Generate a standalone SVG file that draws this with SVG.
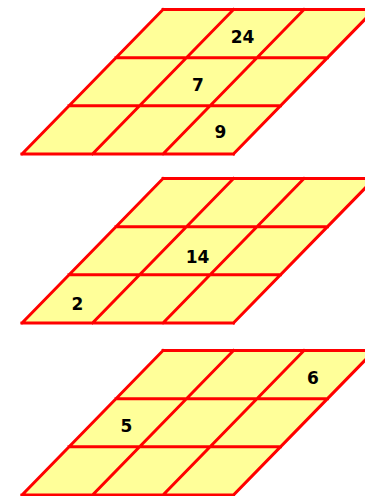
<svg xmlns="http://www.w3.org/2000/svg" xmlns:xlink="http://www.w3.org/1999/xlink" width="365" height="496" viewBox="0 0 365 496">
<style>
.cell{fill:#FFFF99;stroke:none}
.ln{stroke:#FF0000;stroke-width:3;fill:none;stroke-linecap:square}
.num{font-family:"DejaVu Sans",sans-serif;font-weight:bold;font-size:17px;fill:#000;text-anchor:middle}
</style>
<defs>
<g id="grid">
<polygon class="cell" points="163,0 374.5,0 233.5,144.5 22,144.5"/>
<path class="ln" d="M163,0H374.5M116,48.2H327.5M69,96.3H280.5M22,144.5H233.5M163,0L22,144.5M233.5,0L92.5,144.5M304,0L163,144.5M374.5,0L233.5,144.5"/>
</g>
</defs>
<g id="layer1">
<use xlink:href="#grid" transform="translate(0,9.5)"/>
<text class="num" x="242.5" y="42.5">24</text>
<text class="num" x="198" y="91">7</text>
<text class="num" x="220.5" y="138">9</text>
</g>
<g id="layer2">
<use xlink:href="#grid" transform="translate(0,178.5)"/>
<text class="num" x="197.5" y="263">14</text>
<text class="num" x="77.5" y="310">2</text>
</g>
<g id="layer3">
<use xlink:href="#grid" transform="translate(0,350.5)"/>
<text class="num" x="313" y="384">6</text>
<text class="num" x="126.5" y="432">5</text>
</g>
<g id="connectors"/>
</svg>
